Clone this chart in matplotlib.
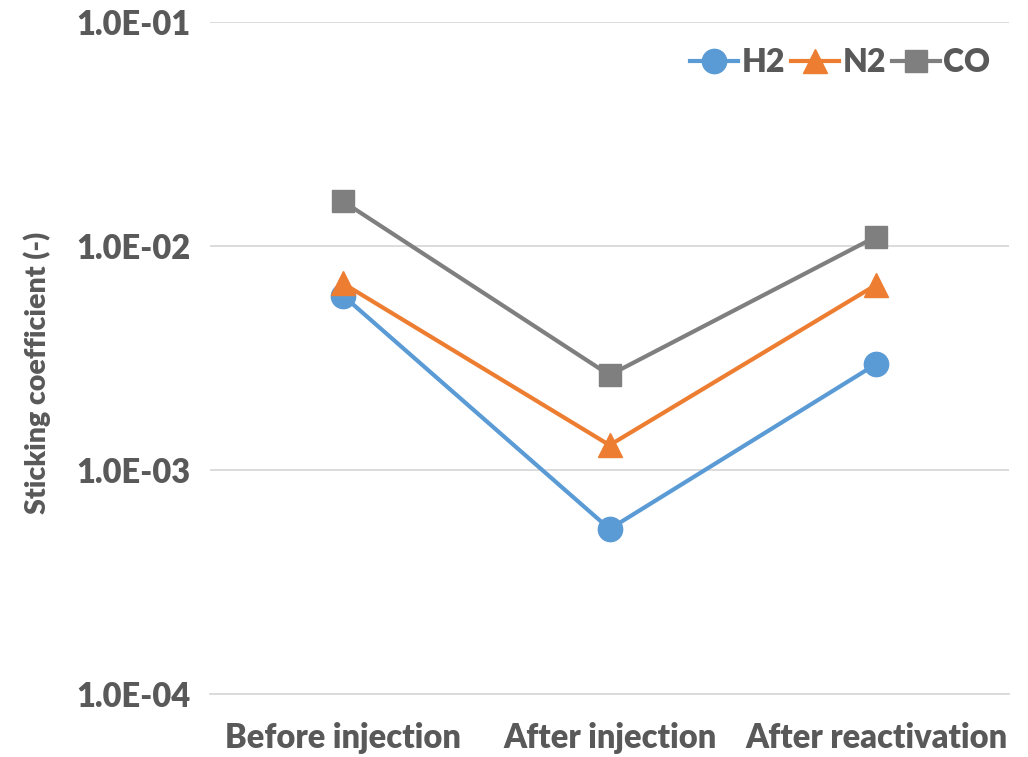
import matplotlib
matplotlib.use("Agg")
import matplotlib.pyplot as plt
from matplotlib.ticker import FixedLocator, FuncFormatter, NullLocator

stages = ["Before injection", "After injection", "After reactivation"]
h2 = [6.0e-3, 5.45e-4, 2.97e-3]
n2 = [6.8e-3, 1.29e-3, 6.7e-3]
co = [1.58e-2, 2.65e-3, 1.10e-2]

TEXT = "#595959"
plt.rcParams["font.family"] = ["Lato", "DejaVu Sans"]
plt.rcParams["font.weight"] = "heavy"
plt.rcParams["axes.labelweight"] = "heavy"

fig = plt.figure(figsize=(10.28, 7.57), dpi=100)
ax = fig.add_axes([0.204, 0.0832, 0.778, 0.888])

x = list(range(len(stages)))
ax.plot(x, h2, color="#5B9BD5", lw=3, marker="o", ms=17.5, label="H2", zorder=3)
ax.plot(x, n2, color="#ED7D31", lw=3, marker="^", ms=17, label="N2", zorder=3)
ax.plot(x, co, color="#7F7F7F", lw=3, marker="s", ms=16, label="CO", zorder=3)

ax.set_yscale("log")
ax.set_ylim(1e-4, 1e-1)
ax.set_xlim(-0.5, 2.5)
ax.yaxis.set_major_locator(FixedLocator([1e-4, 1e-3, 1e-2, 1e-1]))
ax.yaxis.set_minor_locator(NullLocator())
ax.yaxis.set_major_formatter(FuncFormatter(lambda v, p: f"{v:.1E}"))
ax.set_xticks(x)
ax.set_xticklabels(stages)
ax.grid(axis="y", color="#D9D9D9", lw=1.3, zorder=0)
for s in ax.spines.values():
    s.set_visible(False)
ax.spines["bottom"].set_visible(True)
ax.spines["bottom"].set_color("#D9D9D9")
ax.spines["bottom"].set_linewidth(1.3)
ax.tick_params(axis="both", length=0, labelsize=23.5, colors=TEXT, pad=14)
ax.tick_params(axis="x", pad=20)
ax.set_ylabel("Sticking coefficient (-)", fontsize=20.5, color=TEXT)
ax.yaxis.set_label_coords(-0.198, 0.478)

ax.legend(loc="upper right", ncol=3, frameon=False, fontsize=23, labelcolor=TEXT,
          handlelength=1.5, handletextpad=0.1, columnspacing=0.2,
          bbox_to_anchor=(1.0, 0.99), borderaxespad=0.2)

fig.savefig("out.png", dpi=100)
